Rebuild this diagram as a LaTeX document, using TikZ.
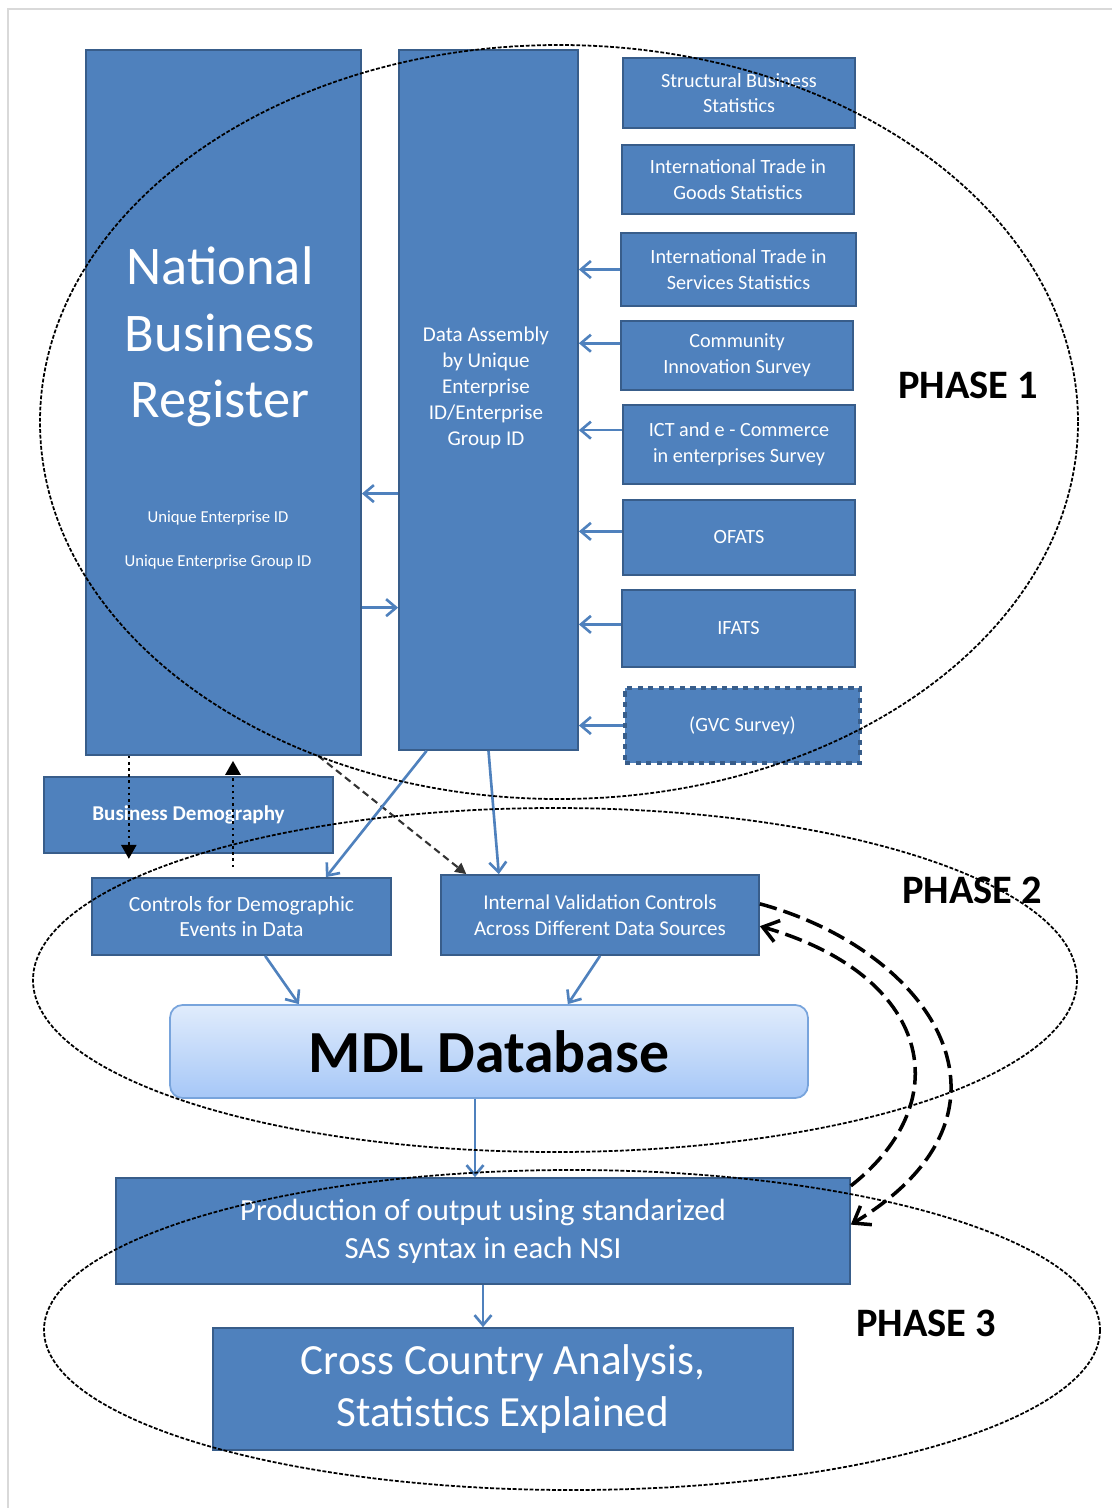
\documentclass[tikz,border=0pt]{standalone}
\usepackage{fontspec}
\setmainfont{Carlito}
\usepackage{xcolor}
\definecolor{boxblue}{RGB}{79,129,189}
\definecolor{boxedge}{RGB}{56,93,138}
\definecolor{dbtop}{RGB}{224,236,252}
\definecolor{dbbottom}{RGB}{166,199,247}
\definecolor{dbedge}{RGB}{120,164,220}
\usetikzlibrary{positioning,arrows.meta}

\begin{document}
\begin{tikzpicture}[
  x=0.02cm, y=-0.02cm,
  bluebox/.style={draw=boxedge, fill=boxblue, line width=1pt, text=white,
                  align=center, inner sep=0pt,
                  font=\fontsize{11.5}{14.7}\selectfont},
  srcbox/.style={bluebox, minimum width=4.64cm},
  flow/.style={-{Straight Barb[length=2mm, width=3.4mm]}, line width=1.5pt,
               draw=boxblue},
  dotflow/.style={-{Triangle[length=2.8mm, width=3mm]}, line width=1.5pt,
                  dotted},
  dashflow/.style={-{Triangle[length=2.2mm, width=2.2mm]}, line width=1.2pt,
                   dash pattern=on 4pt off 2.5pt, black!80},
  loopflow/.style={-{Straight Barb[length=3mm, width=4.4mm]}, line width=2pt,
                   dash pattern=on 10pt off 4pt},
  phaseline/.style={line width=1pt, dash pattern=on 2.2pt off 1pt},
  phaselab/.style={font=\fontsize{23}{27}\selectfont\bfseries},
]
\useasboundingbox (0,0) rectangle (1112,1508);
\draw[black!15, line width=0.6pt] (8,1508) -- (8,9) -- (1112,9);

% --- register and assembly columns ---
\node[bluebox, minimum width=5.5cm, minimum height=14.1cm] (NBR) at (223.5,402.5) {};
\node[text=white, align=center, font=\fontsize{31}{38}\selectfont] (nbrtxt) at (220,337)
  {National\\Business\\Register};
\node[text=white, align=center, font=\fontsize{9.5}{25.5}\selectfont] (nbrid) at (218,540)
  {Unique Enterprise ID\\Unique Enterprise Group ID};
\node[bluebox, minimum width=3.58cm, minimum height=14cm] (DA) at (488.5,400) {};
\node[text=white, align=center, font=\fontsize{12}{14.7}\selectfont] (datxt) at (486,388)
  {Data Assembly\\by Unique\\Enterprise\\ID/Enterprise\\Group ID};

% --- data sources ---
\node[srcbox, minimum height=1.4cm] (SBS) at (739,93) {Structural Business\\Statistics};
\node[srcbox, minimum height=1.38cm] (ITGS) at (738,179.5) {International Trade in\\Goods Statistics};
\node[srcbox, minimum width=4.7cm, minimum height=1.46cm] (ITSS) at (738.5,269.5)
  {International Trade in\\Services Statistics};
\node[srcbox, minimum height=1.38cm] (CIS) at (737,355.5) {Community\\Innovation Survey};
\node[srcbox, minimum height=1.58cm] (ICT) at (739,444.5) {ICT and e - Commerce\\in enterprises Survey};
\node[srcbox, minimum height=1.5cm] (OFATS) at (739,537.5) {OFATS};
\node[srcbox, minimum width=4.66cm, minimum height=1.54cm] (IFATS) at (738.5,628.5) {IFATS};
\node[srcbox, minimum width=4.7cm, minimum height=1.5cm, line width=1.8pt,
      dashed] (GVC) at (742.5,725.5) {(GVC Survey)};

\foreach \src/\ang in {ITSS/180, CIS/174, ICT/173, OFATS/177, IFATS/178, GVC/180}
  \draw[flow] (\src.\ang) -- (\src.\ang -| DA.east);
\draw[flow] (DA.226) -- (DA.226 -| NBR.east);
\draw[flow] (NBR.-56) -- (NBR.-56 -| DA.west);

% --- phase 2 ---
\node[bluebox, minimum width=5.78cm, minimum height=1.52cm,
      font=\fontsize{12}{14}\selectfont\bfseries] (BD) at (188.5,815) {Business Demography};
\node[bluebox, minimum width=5.98cm, minimum height=1.54cm,
      font=\fontsize{12.3}{14.7}\selectfont] (CTRL) at (241.5,916.5)
  {Controls for Demographic\\Events in Data};
\node[bluebox, minimum width=6.36cm, minimum height=1.6cm,
      font=\fontsize{12}{14.7}\selectfont] (IV) at (600,915)
  {Internal Validation Controls\\Across Different Data Sources};
\node[draw=dbedge, line width=1pt, top color=dbtop, bottom color=dbbottom,
      rounded corners=0.25cm, minimum width=12.76cm, minimum height=1.86cm,
      font=\fontsize{34}{40}\selectfont\bfseries] (MDL) at (489,1051.5) {MDL Database};

\draw[dotflow] (NBR.-105) -- ([yshift=-0.1cm]BD.south -| NBR.-105);
\coordinate (up) at ([xshift=0.19cm]NBR.south);
\draw[dotflow] ([yshift=0.2cm]CTRL.north -| up) -- ([yshift=-0.1cm]up);
\draw[dashflow] (NBR.-75) -- (IV.163);
\draw[flow] (DA.-100) -- (CTRL.25);
\draw[flow] (DA.south) -- (IV.158);
\draw[flow] (CTRL.-59) -- (MDL.166);
\draw[flow] (IV.south) -- (MDL.31);

% --- phase 3 ---
\node[bluebox, minimum width=14.68cm, minimum height=2.12cm,
      font=\fontsize{17.5}{21.5}\selectfont] (PRO) at (483,1231)
  {Production of output using standarized\\SAS syntax in each NSI};
\node[bluebox, minimum width=11.6cm, minimum height=2.44cm,
      font=\fontsize{24.5}{30}\selectfont] (CCA) at (503,1389)
  {Cross Country Analysis,\\Statistics Explained};

\draw[flow] ([xshift=-0.28cm]MDL.south) -- ([xshift=-0.28cm]MDL.south |- PRO.north);
\draw[flow] (PRO.south) -- (PRO.south |- CCA.north);
\draw[loopflow] (IV.4) .. controls (930,950) and (1040,1110) .. (PRO.1);
\draw[loopflow] (PRO.7) .. controls (960,1100) and (930,975) .. (IV.-4);

% --- phase outlines ---
\draw[phaseline] (559,422) ellipse [x radius=519, y radius=377];
\draw[phaseline] (555,980) ellipse [x radius=522, y radius=172];
\draw[phaseline] (572,1330) ellipse [x radius=528, y radius=160];
\node[phaselab] (ph1) at (968,385) {PHASE 1};
\node[phaselab] (ph2) at (972,890) {PHASE 2};
\node[phaselab] (ph3) at (926,1323) {PHASE 3};
\end{tikzpicture}
\end{document}
